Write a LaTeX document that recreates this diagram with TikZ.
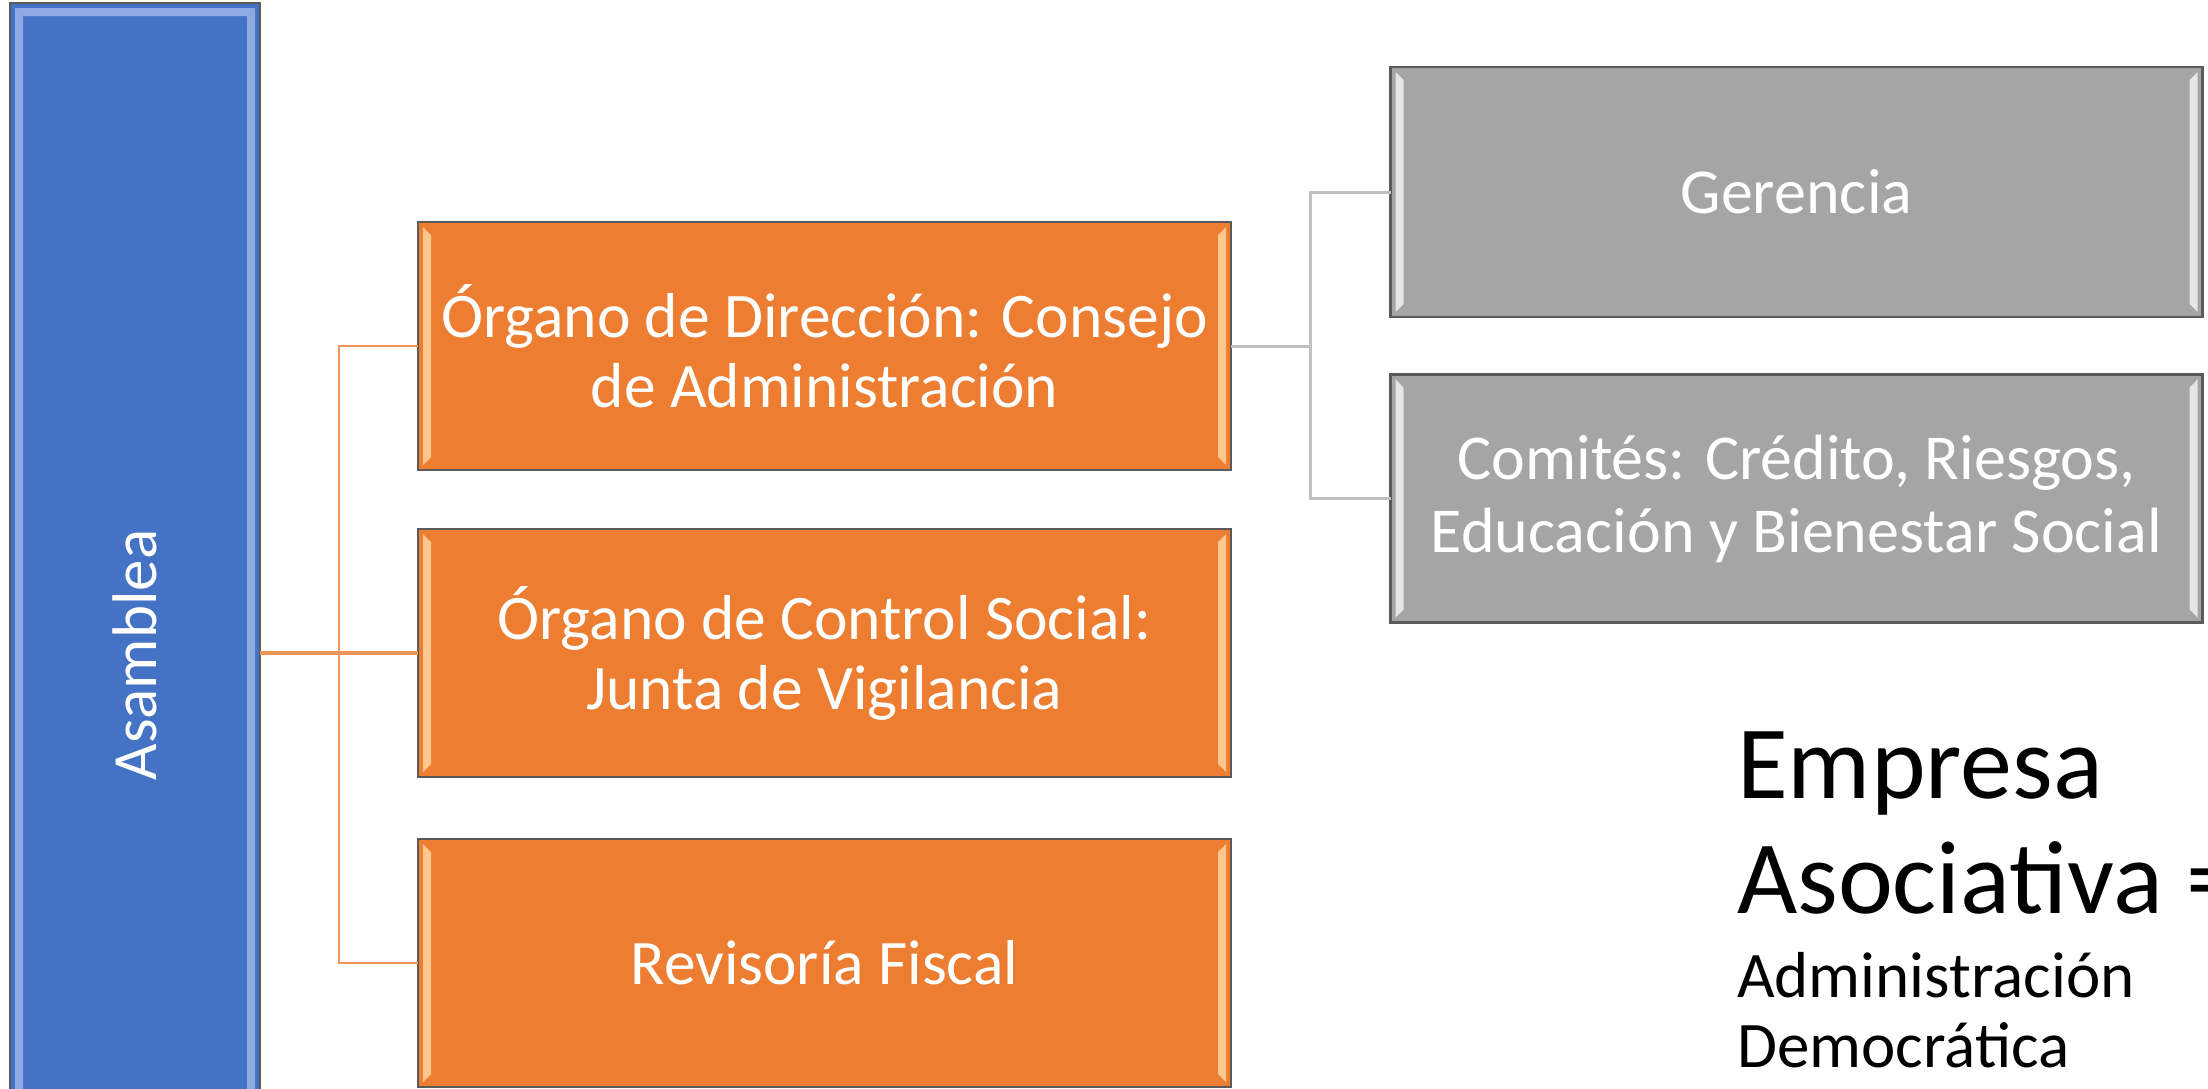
\documentclass[tikz,border=0pt]{standalone}
\usepackage{fontspec}
\setmainfont{Carlito}
\usetikzlibrary{calc}
\definecolor{cblue}{HTML}{4472C4}
\definecolor{corange}{HTML}{ED7D31}
\definecolor{cgray}{HTML}{A5A5A5}
\definecolor{cborder}{HTML}{5A5A5A}
\definecolor{olink}{HTML}{F0965A}
\definecolor{glink}{HTML}{C0C0C0}
\definecolor{hblue}{HTML}{8EAAE0}
\definecolor{horange}{HTML}{FAC88E}
\definecolor{hgray}{HTML}{E6E6E6}
\begin{document}
\begin{tikzpicture}[x=1pt,y=-1pt,
  box/.style={draw=cborder, line width=2.5pt, inner sep=0pt, outer sep=0pt,
    text=white, align=center, font=\fontsize{63.5}{70}\selectfont},
  sidebevel/.style={path picture={
    \fill[#1] ([xshift=5pt,yshift=-5pt]path picture bounding box.north west)
      -- ([xshift=13pt,yshift=-13pt]path picture bounding box.north west)
      -- ([xshift=13pt,yshift=13pt]path picture bounding box.south west)
      -- ([xshift=5pt,yshift=5pt]path picture bounding box.south west) -- cycle;
    \fill[#1] ([xshift=-5pt,yshift=-5pt]path picture bounding box.north east)
      -- ([xshift=-13pt,yshift=-13pt]path picture bounding box.north east)
      -- ([xshift=-13pt,yshift=13pt]path picture bounding box.south east)
      -- ([xshift=-5pt,yshift=5pt]path picture bounding box.south east) -- cycle;
  }},
  topbevel/.style={path picture={
    \fill[#1] ([xshift=5pt,yshift=-5pt]path picture bounding box.north west)
      -- ([xshift=13pt,yshift=-13pt]path picture bounding box.north west)
      -- ([xshift=13pt,yshift=13pt]path picture bounding box.south west)
      -- ([xshift=5pt,yshift=5pt]path picture bounding box.south west) -- cycle;
    \fill[#1] ([xshift=-5pt,yshift=-5pt]path picture bounding box.north east)
      -- ([xshift=-13pt,yshift=-13pt]path picture bounding box.north east)
      -- ([xshift=-13pt,yshift=13pt]path picture bounding box.south east)
      -- ([xshift=-5pt,yshift=5pt]path picture bounding box.south east) -- cycle;
    \fill[#1] ([xshift=5pt,yshift=-5pt]path picture bounding box.north west)
      -- ([xshift=-5pt,yshift=-5pt]path picture bounding box.north east)
      -- ([xshift=-13pt,yshift=-13pt]path picture bounding box.north east)
      -- ([xshift=13pt,yshift=-13pt]path picture bounding box.north west) -- cycle;
  }},
  bluebox/.style={box, fill=cblue, topbevel=hblue, font=\fontsize{63}{70}\selectfont},
  orangebox/.style={box, fill=corange, sidebevel=horange, minimum width=813pt, minimum height=248pt},
  graybox/.style={box, fill=cgray, sidebevel=hgray, minimum width=812pt, minimum height=248pt,
    font=\fontsize{64}{73}\selectfont},
  olinestyle/.style={draw=olink, line width=2.5pt},
  glinestyle/.style={draw=glink, line width=3pt},
  bigtext/.style={anchor=base west, inner sep=0pt, font=\fontsize{104}{115}\selectfont},
  midtext/.style={anchor=base west, inner sep=0pt, font=\fontsize{65}{70}\selectfont},
]
\useasboundingbox (0,0) rectangle (2208,1088);
\fill[white] (0,0) rectangle (2208,1088);
\clip (0,0) rectangle (2208,1088);

% nodes
\node[bluebox, minimum width=250pt, minimum height=1304pt] (asamblea) at (135,655) {\rotatebox{90}{Asamblea}};
\node[orangebox] (org1) at (824.5,346) {Órgano de Dirección: Consejo\\de Administración};
\node[orangebox] (org2) at (824.5,653) {Órgano de Control Social:\\Junta de Vigilancia};
\node[orangebox] (org3) at (824.5,963) {Revisoría Fiscal};
\node[graybox, minimum height=250pt] (ger) at (1796.5,192) {Gerencia};
\node[graybox] (com) at (1796.5,498.5) {Comités: Crédito, Riesgos,\\Educación y Bienestar Social};

\node[bigtext] (emp1) at (1737,798) {Empresa};
\node[bigtext] (emp2) at (1737,913) {Asociativa =};
\node[midtext] (emp3) at (1737,997) {Administración};
\node[midtext] (emp4) at (1737,1067) {Democrática};

% connectors
\coordinate (ja) at ($(asamblea.east)!0.5!(org1.west)$);
\coordinate (jb) at ($(org1.east)!0.5!(ger.west)$);
\draw[olinestyle] (org1.west) -- (ja |- org1.west) -- (ja |- org3.west) -- (org3.west);
\draw[olinestyle, line width=3.5pt] (asamblea.east |- org2.west) -- (org2.west);
\draw[glinestyle] (org1.east) -- (jb |- org1.east);
\draw[glinestyle] (ger.west) -- (jb |- ger.west) -- (jb |- com.west) -- (com.west);
\end{tikzpicture}
\end{document}
